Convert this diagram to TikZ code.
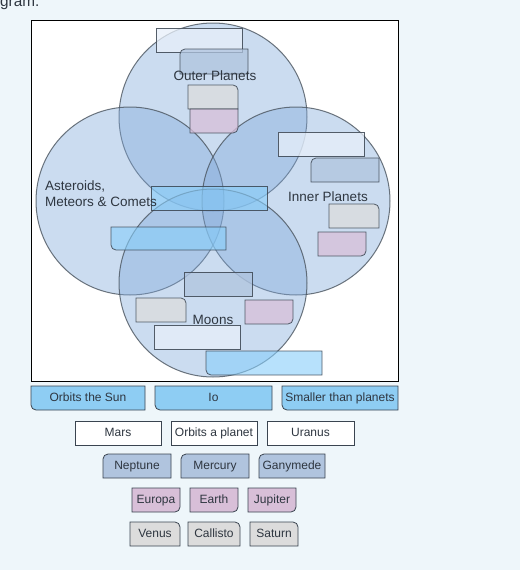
\documentclass[tikz,border=0pt]{standalone}
\usepackage{fontspec}
\setmainfont{Liberation Sans}
\usetikzlibrary{calc}
\pgfdeclarelayer{back}
\pgfdeclarelayer{mid}
\pgfsetlayers{back,mid,main}
\definecolor{pagebg}{HTML}{EEF6FA}
\definecolor{circfill}{HTML}{7FA8DA}
\definecolor{circline}{HTML}{4A545E}
\definecolor{edge}{HTML}{3A4450}
\definecolor{txt}{HTML}{2E3640}
\definecolor{cblue}{HTML}{87CEFA}
\definecolor{bblue}{HTML}{8ECDF3}
\definecolor{csteel}{HTML}{B0C4DE}
\definecolor{cpink}{HTML}{D8BFD8}
\definecolor{cgray}{HTML}{DCDCDC}
\definecolor{clight}{HTML}{E8F0FA}
\tikzset{
  slotnode/.style={inner sep=0pt,outer sep=0pt,rectangle,text=txt,font=\fontsize{12}{14}\selectfont,text height=8.6pt,text depth=2.4pt},
  slotline/.style={draw=edge,line width=0.8pt},
  inlight/.style={slotline,fill=clight,fill opacity=0.75,draw opacity=0.85},
  insteel/.style={slotline,fill=csteel,fill opacity=0.75,draw opacity=0.85},
  ingray/.style={slotline,fill=cgray,fill opacity=0.75,draw opacity=0.85},
  inpink/.style={slotline,fill=cpink,fill opacity=0.75,draw opacity=0.85},
  inblue/.style={slotline,fill=cblue,fill opacity=0.6,draw opacity=0.85},
  outblue/.style={slotline,fill=bblue},
  outsteel/.style={slotline,fill=csteel},
  outpink/.style={slotline,fill=cpink},
  outgray/.style={slotline,fill=cgray},
  outwhite/.style={slotline,fill=white},
  setcircle/.style={fill=circfill,fill opacity=0.4,draw=circline,draw opacity=0.8,line width=1pt},
  setlabel/.style={text=txt,font=\fontsize{13.5}{16}\selectfont,inner sep=0pt},
}
\newcommand\rbgen[5]{%
  \path[#1] ($(#5)!0.5!(#2)$) [rounded corners=5pt] -- (#2) -- ($(#2)!0.5!(#3)$) [sharp corners] -- (#3) -- (#4) -- (#5) -- cycle;}
\newcommand\rbtl[2]{\rbgen{#2}{#1.north west}{#1.north east}{#1.south east}{#1.south west}}
\newcommand\rbtr[2]{\rbgen{#2}{#1.north east}{#1.south east}{#1.south west}{#1.north west}}
\newcommand\rbbr[2]{\rbgen{#2}{#1.south east}{#1.south west}{#1.north west}{#1.north east}}
\newcommand\rbbl[2]{\rbgen{#2}{#1.south west}{#1.north west}{#1.north east}{#1.south east}}
\newcommand\rbno[2]{\path[#2] (#1.north west) rectangle (#1.south east);}
% #1 corner, #2 name, #3 x1, #4 y1, #5 x2, #6 y2, #7 style, #8 text
\newcommand\slot[8]{%
  \node[slotnode,minimum width={#5-#3},minimum height={#6-#4}] (#2) at ({(#3+#5)/2},{(#4+#6)/2}) {#8};
  \begin{pgfonlayer}{mid}\csname rb#1\endcsname{#2}{#7}\end{pgfonlayer}}
\begin{document}
\begin{tikzpicture}[x=1pt,y=-1pt]
\begin{pgfonlayer}{back}
  \fill[pagebg] (0,0) rectangle (520,570);
  \node[draw=black,line width=1pt,fill=white,minimum width=367pt,minimum height=361pt,inner sep=0pt] (frame) at (214.5,200.5) {};
  \node[setcircle,circle,minimum size=188pt,inner sep=0pt] (outer) at (213,117) {};
  \node[setcircle,circle,minimum size=188pt,inner sep=0pt] (aster) at (130,201) {};
  \node[setcircle,circle,minimum size=188pt,inner sep=0pt] (inner) at (296,201) {};
  \node[setcircle,circle,minimum size=188pt,inner sep=0pt] (moons) at (213,283) {};
\end{pgfonlayer}
\useasboundingbox (0,0) rectangle (520,570);
\node[anchor=base west,inner sep=0pt,text=txt,font=\fontsize{15.3}{18}\selectfont] (cut) at (0,6) {gram.};
% set labels
\node[setlabel] (lblouter) at (215,76) {Outer Planets};
\node[setlabel] (lblinner) at (328,197) {Inner Planets};
\node[setlabel,anchor=west,align=left] (lblaster) at (45,194) {Asteroids,\\Meteors \& Comets};
\node[setlabel] (lblmoons) at (213,320) {Moons};
% empty slots in the diagram
\slot{no}{s1}{156}{28}{242}{52}{inlight}{}
\slot{tl}{s2}{180}{49}{248}{74}{insteel}{}
\slot{tr}{s3}{188}{85}{238}{109}{ingray}{}
\slot{br}{s4}{190}{109}{238}{133}{inpink}{}
\slot{no}{s5}{278}{132}{364}{156}{inlight}{}
\slot{tl}{s6}{311}{158}{379}{182}{insteel}{}
\slot{tr}{s7}{329}{204}{379}{228}{ingray}{}
\slot{br}{s8}{318}{232}{366}{256}{inpink}{}
\slot{no}{s9}{151}{186}{267}{210}{inblue}{}
\slot{bl}{s10}{111}{227}{226}{250}{inblue}{}
\slot{no}{s11}{184}{272}{252}{296}{insteel}{}
\slot{tr}{s12}{136}{298}{186}{322}{ingray}{}
\slot{br}{s13}{245}{300}{293}{324}{inpink}{}
\slot{no}{s14}{154}{325}{240}{349}{inlight}{}
\slot{bl}{s15}{206}{351}{322}{375}{inblue}{}
% word bank
\slot{bl}{w1}{31}{386}{145}{410}{outblue}{Orbits the Sun}
\slot{bl}{w2}{155}{386}{272}{410}{outblue}{Io}
\slot{bl}{w3}{282}{386}{398}{410}{outblue}{Smaller than planets}
\slot{no}{w4}{75}{421}{161}{445}{outwhite}{Mars}
\slot{no}{w5}{171}{421}{257}{445}{outwhite}{Orbits a planet}
\slot{no}{w6}{267}{421}{354}{445}{outwhite}{Uranus}
\slot{tl}{w7}{103}{454}{171}{478}{outsteel}{Neptune}
\slot{tl}{w8}{181}{454}{249}{478}{outsteel}{Mercury}
\slot{tl}{w9}{259}{454}{325}{478}{outsteel}{Ganymede}
\slot{br}{w10}{132}{488}{180}{512}{outpink}{Europa}
\slot{br}{w11}{190}{488}{238}{512}{outpink}{Earth}
\slot{br}{w12}{248}{488}{296}{512}{outpink}{Jupiter}
\slot{tr}{w13}{130}{522}{180}{546}{outgray}{Venus}
\slot{tr}{w14}{188}{522}{240}{546}{outgray}{Callisto}
\slot{tr}{w15}{250}{522}{298}{546}{outgray}{Saturn}
\end{tikzpicture}
\end{document}
